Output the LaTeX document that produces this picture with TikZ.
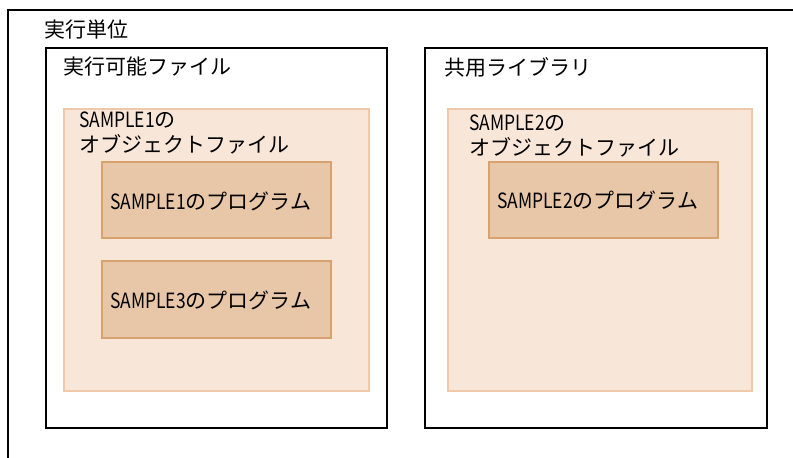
\documentclass[tikz,border=0pt]{standalone}
\usepackage{fontspec}
\usepackage{graphicx}
\setmainfont{Noto Sans CJK JP}
\newcommand{\lat}[1]{\scalebox{0.83}[1]{#1}}
\definecolor{objfill}{RGB}{248,231,216}
\definecolor{objline}{RGB}{240,200,170}
\definecolor{progfill}{RGB}{232,198,168}
\definecolor{progline}{RGB}{216,162,112}
\begin{document}
\begin{tikzpicture}[x=1pt,y=-1pt,
  frame/.style={draw=black,line width=1.6pt,fill=white},
  objbox/.style={draw=objline,line width=1.2pt,fill=objfill},
  progbox/.style={draw=progline,line width=1.2pt,fill=progfill},
  lbl/.style={inner sep=0pt,anchor=west,font=\fontsize{21}{26}\selectfont},
  lbl2/.style={inner sep=0pt,anchor=north west,align=left,font=\fontsize{21}{25}\selectfont}]
\useasboundingbox (0,0) rectangle (793,458);
\clip (0,0) rectangle (793,458);
% outer (cropped) frame
\draw[frame] (8,480) rectangle (820,10);
\node[lbl] (unit) at (44,30) {実行単位};
% executable
\draw[frame] (46,48) rectangle (387,428);
\node[lbl] (exe) at (63,67) {実行可能ファイル};
\draw[objbox] (64,109) rectangle (369,391);
\node[lbl2] (obj1) at (79,112) {\lat{SAMPLE1}の\\オブジェクトファイル};
\draw[progbox] (102,162) rectangle (331,238);
\node[lbl] (p1) at (110,201) {\lat{SAMPLE1}のプログラム};
\draw[progbox] (102,261) rectangle (331,338);
\node[lbl] (p3) at (110,300) {\lat{SAMPLE3}のプログラム};
% library
\draw[frame] (425,48) rectangle (767,428);
\node[lbl] (lib) at (444,67) {共用ライブラリ};
\draw[objbox] (448,109) rectangle (752,391);
\node[lbl2] (obj2) at (469,115) {\lat{SAMPLE2}の\\オブジェクトファイル};
\draw[progbox] (489,162) rectangle (718,238);
\node[lbl] (p2) at (497,200) {\lat{SAMPLE2}のプログラム};
\end{tikzpicture}
\end{document}
